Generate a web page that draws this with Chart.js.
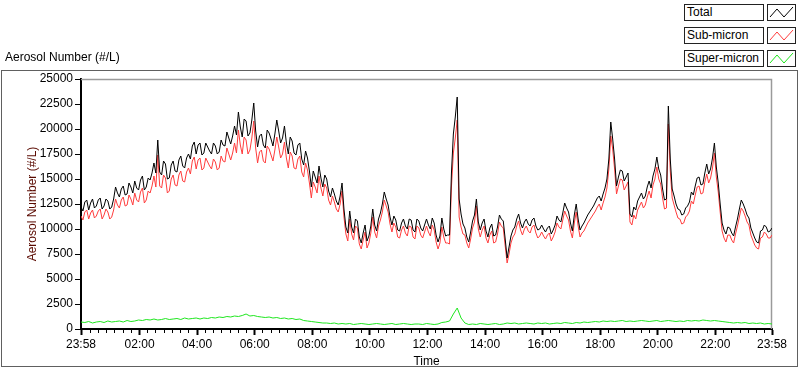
<!DOCTYPE html>
<html>
<head>
<meta charset="utf-8">
<script src="https://cdn.jsdelivr.net/npm/chart.js@4.4.0/dist/chart.umd.min.js"></script>
<style>
  body { margin: 0; background: #fff; }
  #wrap { position: relative; width: 800px; height: 369px; background: #fff; font-family: "Liberation Sans", Arial, sans-serif; }
  #frame { position: absolute; left: 1px; top: 70px; width: 795px; height: 295px; border: 1px solid #606060; }
  #c { position: absolute; left: 0; top: 0; }
  #graphName { position: absolute; left: 5px; top: 50px; font-size: 12px; line-height: 14px; color: #000; }
  .lgText { position: absolute; left: 684px; width: 76px; height: 15px; border: 1px solid #222; background: #fff; font-size: 12px; line-height: 15px; padding-left: 2px; box-sizing: content-box; }
  .lgSwatch { position: absolute; left: 767px; width: 27px; height: 15px; border: 1px solid #222; background: #fff; }
</style>
</head>
<body>
<div id="wrap">
  <div id="frame"></div>
  <canvas id="c" width="800" height="369"></canvas>
  <div id="graphName">Aerosol Number (#/L)</div>
  <div id="legend"></div>
</div>
<script>
// total and sub-micron sampled every 4 minutes from 23:58, super-micron every 8
const stepMin = 4;
const superStep = 8;

const totalNum = [
  12200,11800,12700,12900,11900,12600,13000,12100,12300,12900,13100,12000,12300,13000,12800,12000,12200,13000,14200,13600,
  13200,14000,14300,13400,13500,14600,14200,13600,14800,14100,13900,14900,15300,13900,14200,15100,14900,15600,16600,15600,
  18900,15700,15400,16800,16500,15000,15100,16400,16800,15800,15700,16900,17300,16300,16100,17100,17500,17000,18300,18700,
  17500,18400,18600,17400,17600,18600,18200,17800,17500,18600,18300,17500,17700,18900,18400,18300,19700,19100,18500,19300,
  20300,19400,21700,20200,19200,21000,20800,19300,19600,20900,22600,19800,18200,19300,19500,18400,18100,19900,19600,19000,
  18300,19500,20900,19800,18600,19100,20300,18600,17500,19200,18800,17600,17400,18400,18600,17000,16400,17800,17100,15800,
  14200,15800,15200,14600,16300,15100,14200,15400,15000,13800,13200,14100,13500,12800,12400,13300,14600,12000,10200,9600,
  11800,10200,9600,11000,10800,9200,8600,9600,10400,8800,9300,10300,12000,10400,9800,11000,11600,12500,13700,13000,
  12400,11200,10400,11300,10900,9900,9800,10600,11000,10300,10000,11000,10900,9900,9700,11000,10800,10100,9800,10400,
  11000,10400,10000,11100,10600,9400,8700,9300,11100,10000,9300,9400,9400,15600,19500,21200,23200,13000,11500,10500,
  10100,9200,8700,9700,10800,11400,13000,10700,9900,10600,11000,9800,9200,10100,10500,9300,9400,10200,11400,11000,
  10800,9000,7100,8200,9300,9900,10200,11000,11500,10600,10100,10700,11000,10500,10300,10900,11100,10300,9900,10000,
  10400,10000,9700,10100,10300,9500,9900,10400,11300,10900,10700,11600,12600,12100,11700,10600,9800,11400,12500,11000,
  9900,10300,10600,11000,11400,11700,12000,12300,12700,13100,13300,12800,13500,14100,15000,17000,20700,19000,17000,14300,
  15200,15900,15800,14800,15200,15600,11500,11200,12200,11900,12800,13200,13600,13000,13300,14200,14800,14100,15300,16000,
  17200,16000,15400,14000,12900,13000,22300,17000,14000,13300,12500,12000,11900,11400,11500,12100,12300,12700,13700,13400,
  14300,15100,15200,14400,14500,15600,16500,15500,16000,17100,18600,16200,14600,12500,10600,9900,9500,10200,10100,9600,
  9300,10200,11000,12000,12900,12500,12000,11400,11100,10100,9600,9100,8700,8600,9800,9900,10400,10200,9700,9800,
  10100
];

const subMicron = [
  11300,10900,11700,11900,11000,11600,11900,11100,11300,11800,12000,11000,11400,12000,11700,11000,11200,11900,13000,12400,
  12100,12900,13200,12300,12400,13400,13000,12400,13600,12900,12700,13700,14100,12600,12900,13800,13600,14300,15300,14200,
  17400,14300,14100,15400,15100,13600,13800,15000,15400,14400,14300,15400,15800,14800,14700,15700,16100,15500,16800,17200,
  16000,16900,17100,15900,16100,17100,16700,16300,16000,17000,16700,15900,16100,17300,16800,16700,18100,17500,16900,17600,
  18600,17600,19900,18400,17500,19200,18900,17500,17900,19100,20800,18100,16600,17700,17900,16800,16600,18300,18000,17400,
  16800,17900,19200,18200,17100,17500,18700,17100,16100,17700,17300,16100,16000,17000,17300,15700,15200,16600,15900,14600,
  13100,14700,14200,13600,15300,14100,13300,14500,14100,12900,12400,13300,12700,12000,11700,12500,13800,11200,9500,8800,
  11000,9500,8900,10300,10100,8500,8000,8900,9700,8100,8600,9600,11200,9700,9100,10300,10900,11700,12900,12300,
  11700,10500,9700,10600,10200,9200,9100,9900,10300,9600,9300,10300,10200,9200,9000,10300,10100,9400,9100,9700,
  10300,9700,9300,10400,9900,8700,8000,8600,10200,9200,8600,8600,8500,14200,17600,19100,20900,11200,10200,9500,
  9400,8600,8100,9000,10100,10700,12300,10000,9200,9900,10300,9100,8600,9400,9800,8600,8700,9500,10700,10300,
  10100,8300,6600,7500,8600,9200,9500,10300,10800,9900,9400,10000,10300,9800,9600,10200,10400,9600,9100,9300,
  9700,9300,9000,9400,9600,8800,9200,9700,10600,10200,10000,10900,11800,11300,10900,9800,9100,10600,11700,10300,
  9200,9600,9800,10200,10600,10900,11200,11500,11800,12200,12500,11900,12600,13200,14100,16000,19300,18000,16000,13500,
  14300,15000,14900,13900,14300,14700,10700,10400,11400,11000,11900,12300,12700,12100,12400,13200,13800,13100,14400,15000,
  16200,15000,14500,13100,12000,12100,20500,15800,13100,12400,11700,11100,11000,10500,10600,11200,11400,11800,12800,12500,
  13400,14200,14300,13500,13600,14700,15500,14600,15100,16100,17600,15200,13700,11700,9800,9100,8700,9400,9400,8900,
  8600,9500,10300,11200,12100,11800,11300,10700,10400,9400,8900,8400,8100,8000,9100,9200,9700,9500,9100,9100,
  9400
];

const superMicron = [
  700,650,750,600,700,750,650,800,700,750,
  800,700,850,750,800,900,850,950,900,1000,
  900,950,1050,950,1000,1050,950,1100,1000,1050,
  1100,1000,1100,1050,1150,1100,1200,1150,1250,1200,
  1300,1250,1350,1500,1300,1350,1250,1200,1150,1200,
  1100,1150,1050,1100,1000,1050,950,1000,850,800,
  750,700,650,600,600,550,600,500,550,500,
  550,450,500,550,500,450,500,550,500,450,
  500,550,450,500,550,500,450,500,500,450,
  550,500,450,500,650,700,800,1500,2100,1100,
  600,450,500,450,550,500,450,500,550,450,
  500,600,550,600,500,550,600,550,500,600,
  550,600,500,550,600,550,650,600,550,650,
  600,700,650,700,750,700,800,750,800,750,
  800,850,750,800,750,800,850,800,750,800,
  850,750,800,850,800,750,800,750,850,800,
  850,800,900,850,800,850,800,750,700,650,
  600,650,600,650,550,600,550,600,500,550,
  500
];

const seriesNames = ['Total', 'Sub-micron', 'Super-micron'];
const seriesColors = ['#000000', '#ff3c3c', '#1ee61e'];

// minutes after 23:58 where labelled ticks sit
const majorTicks = [0, 122, 242, 362, 482, 602, 722, 842, 962, 1082, 1202, 1322, 1440];
const yTickStep = 2500;

const FONT = '"Liberation Sans", Arial, sans-serif';

function clock(m) {
  let t = (23 * 60 + 58 + Math.round(m)) % 1440;
  let h = Math.floor(t / 60), mm = t % 60;
  return String(h).padStart(2, '0') + ':' + String(mm).padStart(2, '0');
}

// minor ticks, 6 between each pair of labelled ticks
let tickValues = majorTicks.slice();
for (let j = 1; j <= 6; j++) {
  let v = 122 - j * 120 / 7;
  if (v > 0) tickValues.push(v);
}
for (let i = 1; i < majorTicks.length - 1; i++) {
  for (let j = 1; j <= 6; j++) {
    let v = majorTicks[i] + j * 120 / 7;
    if (v < 1440) tickValues.push(v);
  }
}
tickValues.sort((a, b) => a - b);

function isMajor(ctx) {
  return ctx.tick && majorTicks.includes(ctx.tick.value);
}

function toPoints(arr, step) {
  return arr.map((v, i) => ({ x: i * step, y: v }));
}

const plotFrame = {
  id: 'plotFrame',
  beforeDatasetsDraw(chart) {
    const a = chart.chartArea;
    const ctx = chart.ctx;
    ctx.save();
    ctx.strokeStyle = '#9a9a9a';
    ctx.lineWidth = 1.5;
    ctx.beginPath();
    ctx.moveTo(a.left, a.top + 0.5);
    ctx.lineTo(a.right - 0.5, a.top + 0.5);
    ctx.lineTo(a.right - 0.5, a.bottom);
    ctx.stroke();
    ctx.restore();
  }
};

const chart = new Chart(document.getElementById('c').getContext('2d'), {
  type: 'line',
  data: {
    datasets: [
      { label: seriesNames[0], data: toPoints(totalNum, stepMin), borderColor: seriesColors[0] },
      { label: seriesNames[1], data: toPoints(subMicron, stepMin), borderColor: seriesColors[1] },
      { label: seriesNames[2], data: toPoints(superMicron, superStep), borderColor: seriesColors[2] }
    ]
  },
  options: {
    responsive: false,
    animation: false,
    parsing: false,
    layout: { padding: { top: 79, right: 28, left: 0, bottom: 0 } },
    elements: {
      line: { borderWidth: 1, tension: 0 },
      point: { radius: 0 }
    },
    plugins: { legend: { display: false }, tooltip: { enabled: false } },
    scales: {
      x: {
        type: 'linear',
        min: 0,
        max: 1440,
        afterBuildTicks: (s) => { s.ticks = tickValues.map(v => ({ value: v })); },
        afterFit: (s) => { s.height = 40; },
        ticks: {
          autoSkip: false,
          maxRotation: 0,
          padding: 2,
          color: '#000',
          font: { family: FONT, size: 12 },
          callback: (v) => majorTicks.includes(v) ? clock(v) : ''
        },
        grid: {
          drawOnChartArea: false,
          tickLength: 6,
          tickColor: '#000',
          tickWidth: (ctx) => isMajor(ctx) ? 2 : 1,
          tickBorderDash: (ctx) => isMajor(ctx) ? [] : [3, 10]
        },
        border: { color: '#000', width: 2 },
        title: { display: true, text: 'Time', color: '#000', font: { family: FONT, size: 12 }, padding: { top: 2, bottom: 0 } }
      },
      y: {
        min: 0,
        max: 25000,
        afterFit: (s) => { s.width = 81; },
        ticks: { stepSize: yTickStep, padding: 2, color: '#000', font: { family: FONT, size: 12 }, callback: (v) => String(v) },
        grid: { drawOnChartArea: false, tickLength: 6, tickColor: '#000' },
        border: { color: '#000', width: 2 },
        title: { display: true, text: 'Aerosol Number (#/L)', color: '#5a0a00', font: { family: FONT, size: 12 }, padding: { top: 25, bottom: 0 } }
      }
    }
  },
  plugins: [plotFrame]
});

// legend boxes at the top right
const legend = document.getElementById('legend');
const rowTops = [4, 27, 50];
seriesNames.forEach((name, i) => {
  const t = document.createElement('div');
  t.className = 'lgText';
  t.style.top = rowTops[i] + 'px';
  t.textContent = name;
  legend.appendChild(t);
  const s = document.createElement('div');
  s.className = 'lgSwatch';
  s.style.top = rowTops[i] + 'px';
  s.innerHTML = '<svg width="27" height="15"><polyline points="2,12 9,4 16,12 25,2" fill="none" stroke="' + seriesColors[i] + '" stroke-width="1"/></svg>';
  legend.appendChild(s);
});
</script>
</body>
</html>
